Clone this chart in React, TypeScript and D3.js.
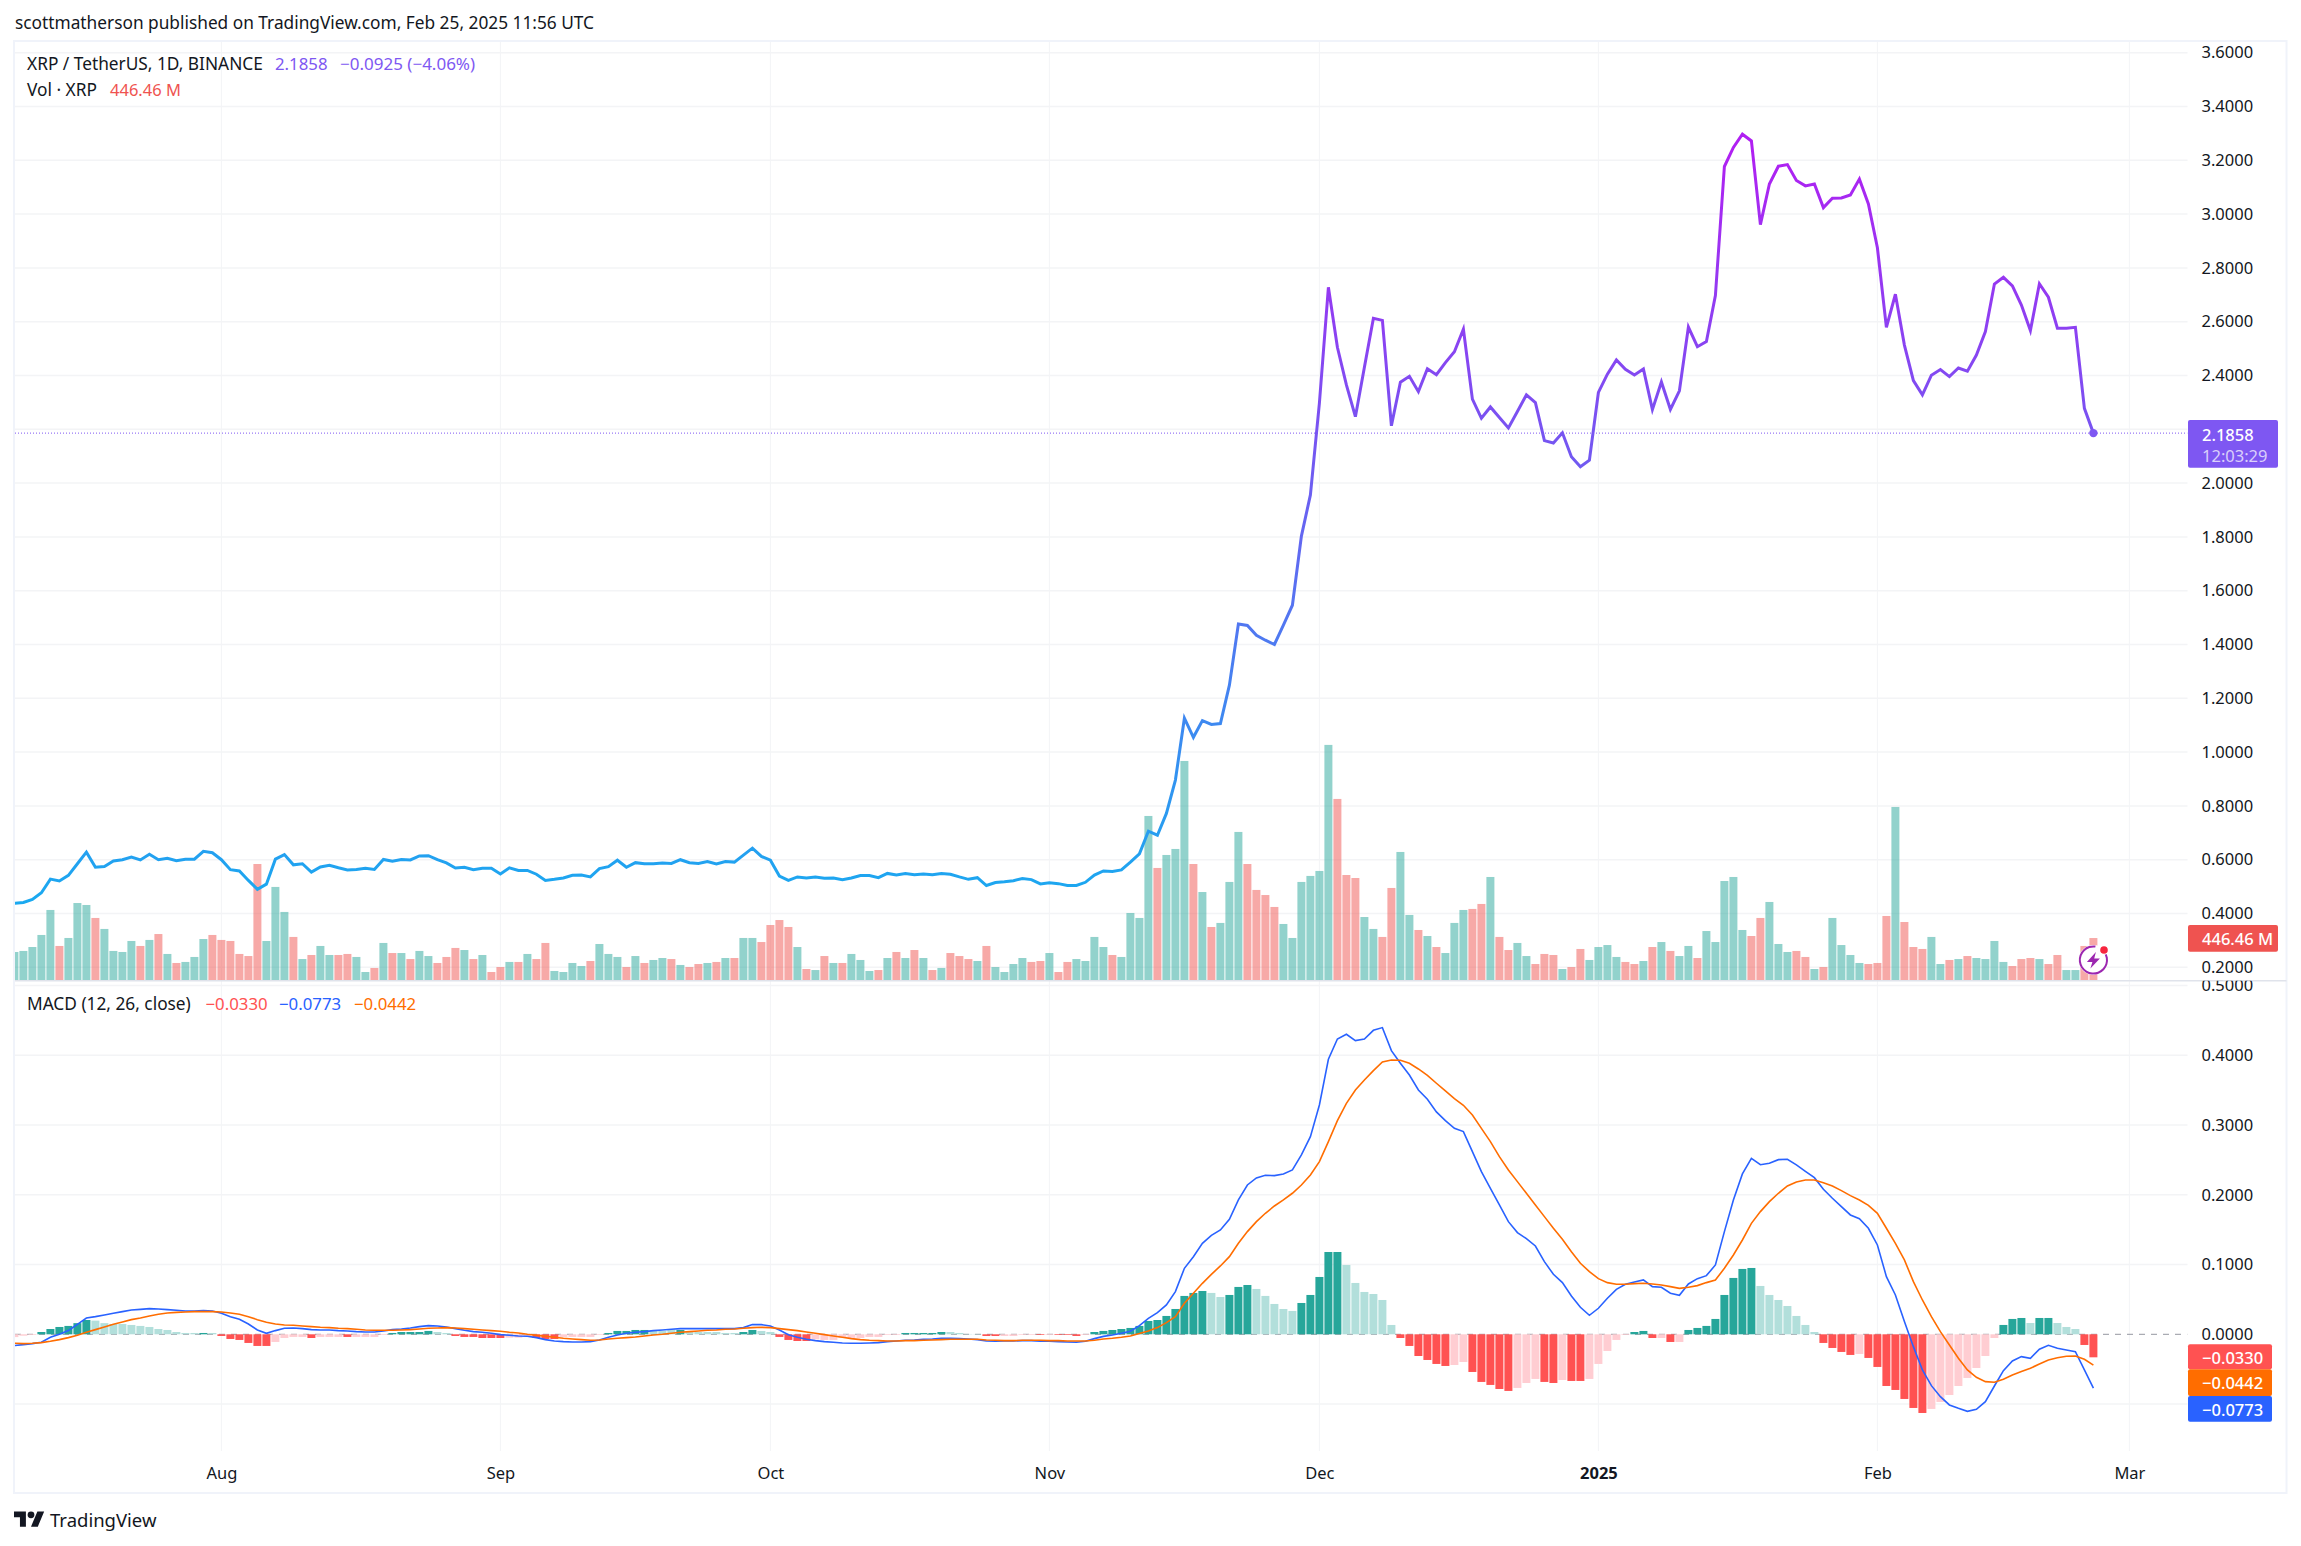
import React, { useEffect, useRef } from 'react';
import * as d3 from 'd3';

const FIRST_DAY = Date.UTC(2024, 6, 9);
const DAY = 86400000;

const closes = [
  0.438, 0.441, 0.452, 0.477, 0.528, 0.521, 0.542, 0.585, 0.628, 0.572, 0.575, 0.595, 0.6, 0.61, 0.599, 0.62,
  0.6, 0.605, 0.596, 0.602, 0.602, 0.631, 0.626, 0.6, 0.563, 0.558, 0.523, 0.49, 0.509, 0.602, 0.619, 0.581,
  0.585, 0.554, 0.573, 0.579, 0.57, 0.562, 0.564, 0.568, 0.564, 0.601, 0.594, 0.601, 0.599, 0.614, 0.615, 0.6,
  0.588, 0.569, 0.572, 0.563, 0.568, 0.568, 0.547, 0.57, 0.56, 0.56, 0.546, 0.523, 0.527, 0.532, 0.542, 0.543,
  0.536, 0.567, 0.574, 0.598, 0.572, 0.589, 0.585, 0.585, 0.588, 0.586, 0.6, 0.589, 0.586, 0.593, 0.584, 0.593,
  0.591, 0.617, 0.643, 0.612, 0.598, 0.539, 0.523, 0.536, 0.532, 0.536, 0.531, 0.532, 0.526, 0.532, 0.541, 0.541,
  0.533, 0.549, 0.543, 0.549, 0.544, 0.547, 0.544, 0.549, 0.546, 0.536, 0.527, 0.533, 0.504, 0.515, 0.518, 0.522,
  0.53, 0.526, 0.51, 0.514, 0.511, 0.504, 0.504, 0.516, 0.543, 0.558, 0.556, 0.562, 0.591, 0.622, 0.706, 0.691,
  0.772, 0.896, 1.126, 1.055, 1.117, 1.103, 1.106, 1.249, 1.476, 1.471, 1.434, 1.416, 1.4, 1.472, 1.546, 1.803,
  1.956, 2.297, 2.728, 2.505, 2.365, 2.247, 2.431, 2.613, 2.605, 2.213, 2.375, 2.397, 2.34, 2.425, 2.403, 2.448,
  2.488, 2.572, 2.312, 2.241, 2.283, 2.244, 2.205, 2.266, 2.328, 2.299, 2.158, 2.149, 2.187, 2.098, 2.061, 2.085,
  2.337, 2.405, 2.458, 2.423, 2.402, 2.424, 2.273, 2.376, 2.274, 2.343, 2.58, 2.507, 2.526, 2.697, 3.177, 3.248,
  3.297, 3.272, 2.961, 3.112, 3.178, 3.184, 3.125, 3.105, 3.112, 3.024, 3.059, 3.06, 3.071, 3.13, 3.038, 2.875,
  2.579, 2.702, 2.513, 2.381, 2.328, 2.401, 2.422, 2.396, 2.428, 2.416, 2.476, 2.563, 2.74, 2.765, 2.733, 2.662,
  2.567, 2.741, 2.691, 2.576, 2.576, 2.579, 2.278, 2.1858,
];

// volume in millions
const volumes = [
  298, 309, 351, 479, 745, 362, 447, 819, 798, 660, 543, 309, 298, 415, 362, 426,
  489, 277, 181, 192, 245, 436, 479, 426, 415, 277, 255, 1234, 415, 990, 724, 458,
  223, 266, 362, 266, 266, 277, 245, 85, 128, 394, 287, 287, 223, 309, 255, 181,
  245, 341, 319, 223, 266, 85, 138, 192, 192, 277, 223, 394, 96, 85, 181, 149,
  202, 383, 277, 245, 138, 255, 181, 213, 234, 223, 160, 138, 170, 181, 192, 234,
  234, 447, 447, 404, 585, 638, 564, 351, 117, 106, 255, 181, 181, 277, 213, 96,
  106, 234, 298, 234, 319, 234, 106, 128, 287, 255, 223, 202, 362, 138, 85, 170,
  234, 192, 202, 287, 85, 192, 223, 202, 458, 351, 266, 245, 713, 660, 1745, 1192,
  1330, 1394, 2330, 1234, 936, 564, 607, 1043, 1575, 1234, 958, 904, 777, 596, 447, 1043,
  1107, 1160, 2501, 1926, 1117, 1085, 670, 543, 458, 979, 1362, 692, 532, 468, 351, 287,
  607, 745, 756, 809, 1096, 458, 319, 394, 255, 170, 277, 266, 117, 138, 330, 213,
  351, 372, 245, 192, 170, 202, 351, 404, 309, 255, 362, 234, 521, 404, 1053, 1096,
  532, 468, 660, 830, 383, 298, 309, 245, 117, 138, 660, 372, 266, 181, 170, 181,
  681, 1841, 617, 351, 330, 458, 170, 213, 223, 255, 234, 223, 415, 192, 149, 223,
  234, 223, 170, 266, 106, 106, 362, 446.46,
];

const downVolumeDays = [
  5, 9, 14, 16, 18, 22, 23, 24, 25, 26, 27, 31, 33, 36, 37, 40, 42, 44, 47, 48, 49, 51, 53, 54, 56, 58, 59, 64,
  68, 70, 73, 75, 76, 78, 80, 83, 84, 85, 86, 88, 90, 92, 96, 98, 100, 102, 104, 105, 106, 108, 113, 114, 116,
  117, 122, 127, 131, 133, 137, 138, 139, 140, 147, 148, 149, 152, 153, 156, 158, 162, 163, 165, 166, 169, 170,
  171, 173, 174, 179, 180, 182, 184, 187, 193, 194, 198, 199, 201, 206, 207, 208, 210, 211, 212, 215, 217, 222,
  223, 224, 226, 227, 230, 231,
];

const macdLine = [
  -0.0162, -0.0148, -0.0134, -0.0115, -0.0043, 0, 0.0053, 0.0143, 0.0234, 0.0253, 0.0277, 0.0301, 0.0325, 0.0349, 0.0358, 0.0368,
  0.0363, 0.0354, 0.0344, 0.0335, 0.0335, 0.0339, 0.0335, 0.0301, 0.0253, 0.0215, 0.0148, 0.0062, 0.0014, 0.0053, 0.0086, 0.0091,
  0.0081, 0.0067, 0.0062, 0.0062, 0.0053, 0.0048, 0.0038, 0.0033, 0.0033, 0.0048, 0.0067, 0.0076, 0.0091, 0.011, 0.0124, 0.0119,
  0.0105, 0.0081, 0.0057, 0.0038, 0.0029, 0.0014, -0.0005, -0.0014, -0.0024, -0.0029, -0.0048, -0.0076, -0.0096, -0.0105, -0.011, -0.011,
  -0.0105, -0.0081, -0.0043, -0.001, 0.0014, 0.0029, 0.0038, 0.0053, 0.0062, 0.0072, 0.0081, 0.0081, 0.0081, 0.0081, 0.0081, 0.0081,
  0.0081, 0.0096, 0.0139, 0.0139, 0.0119, 0.0062, -0.0005, -0.0043, -0.0072, -0.0091, -0.0105, -0.0115, -0.0124, -0.0129, -0.0129, -0.0124,
  -0.0119, -0.0105, -0.0096, -0.0086, -0.0081, -0.0072, -0.0067, -0.0057, -0.0057, -0.0062, -0.0067, -0.0076, -0.0096, -0.01, -0.0096, -0.0096,
  -0.0091, -0.0091, -0.01, -0.01, -0.0105, -0.011, -0.0115, -0.01, -0.0062, -0.003, -0.001, 0.0014, 0.0043, 0.0124, 0.0229, 0.0311,
  0.0421, 0.0612, 0.0946, 0.1113, 0.1305, 0.1419, 0.1496, 0.1649, 0.1926, 0.2141, 0.2241, 0.228, 0.2275, 0.2299, 0.2356, 0.2571,
  0.2834, 0.3288, 0.3943, 0.4234, 0.4301, 0.421, 0.4234, 0.4358, 0.4397, 0.4067, 0.3885, 0.3718, 0.3503, 0.3369, 0.3188, 0.3063,
  0.2953, 0.2906, 0.2619, 0.2332, 0.2093, 0.1854, 0.1615, 0.1458, 0.1372, 0.1266, 0.1042, 0.086, 0.0741, 0.055, 0.0387, 0.0272,
  0.0373, 0.0516, 0.0645, 0.0717, 0.075, 0.0779, 0.0683, 0.0674, 0.0588, 0.0559, 0.0722, 0.0798, 0.0841, 0.0994, 0.1472, 0.1926,
  0.2299, 0.2523, 0.2432, 0.2452, 0.2504, 0.2509, 0.2428, 0.2337, 0.2246, 0.2079, 0.195, 0.183, 0.1711, 0.1658, 0.152, 0.1281,
  0.0827, 0.0564, 0.0182, -0.0177, -0.0511, -0.0736, -0.0894, -0.1013, -0.1061, -0.1104, -0.1075, -0.0965, -0.0741, -0.0521, -0.0382, -0.032,
  -0.0344, -0.0215, -0.0158, -0.0201, -0.0225, -0.0249, -0.0511, -0.0773,
];

const signalLine = [
  -0.0129, -0.0134, -0.0129, -0.0119, -0.01, -0.0076, -0.0048, -0.0014, 0.0029, 0.0067, 0.0105, 0.0143, 0.0177, 0.021, 0.0234, 0.0263,
  0.0287, 0.0306, 0.0315, 0.032, 0.0325, 0.0325, 0.0325, 0.032, 0.0306, 0.0287, 0.0253, 0.021, 0.0172, 0.0148, 0.0134, 0.0129,
  0.0119, 0.011, 0.01, 0.0096, 0.0086, 0.0081, 0.0072, 0.0062, 0.0057, 0.0057, 0.0057, 0.0062, 0.0067, 0.0076, 0.0086, 0.0091,
  0.0096, 0.0091, 0.0081, 0.0072, 0.0062, 0.0053, 0.0043, 0.0029, 0.0019, 0, -0.0014, -0.0029, -0.0043, -0.0057, -0.0067, -0.0076,
  -0.0086, -0.0081, -0.0067, -0.0057, -0.0048, -0.0038, -0.0024, -0.001, 0, 0.0014, 0.0029, 0.0038, 0.0048, 0.0057, 0.0062, 0.0072,
  0.0076, 0.0086, 0.0096, 0.01, 0.0096, 0.0081, 0.0067, 0.0053, 0.0033, 0.0014, -0.0005, -0.0024, -0.0043, -0.0062, -0.0076, -0.0086,
  -0.0091, -0.0096, -0.0096, -0.0091, -0.0091, -0.0086, -0.0081, -0.0076, -0.0072, -0.0072, -0.0072, -0.0072, -0.0081, -0.0086, -0.0091, -0.0091,
  -0.0086, -0.0086, -0.0086, -0.0091, -0.0091, -0.0096, -0.0096, -0.0096, -0.0086, -0.0067, -0.0057, -0.0043, -0.0024, 0.001, 0.0048, 0.0096,
  0.0167, 0.0253, 0.0444, 0.0588, 0.0731, 0.086, 0.098, 0.1113, 0.1305, 0.1472, 0.1615, 0.1735, 0.184, 0.1926, 0.2022, 0.2141,
  0.2284, 0.2476, 0.2762, 0.3063, 0.3312, 0.3503, 0.3646, 0.378, 0.3904, 0.3933, 0.3928, 0.3885, 0.3804, 0.3713, 0.3599, 0.3489,
  0.3379, 0.3283, 0.3145, 0.2953, 0.2762, 0.2547, 0.2356, 0.2189, 0.2022, 0.1854, 0.1687, 0.152, 0.1362, 0.1185, 0.1018, 0.0898,
  0.0798, 0.0741, 0.0717, 0.0717, 0.0726, 0.0731, 0.0722, 0.0707, 0.0683, 0.0659, 0.0674, 0.0698, 0.0741, 0.0779, 0.0946, 0.1137,
  0.1352, 0.1591, 0.1759, 0.1902, 0.2022, 0.2127, 0.2184, 0.2213, 0.2213, 0.2174, 0.2127, 0.206, 0.1988, 0.1926, 0.1849, 0.1735,
  0.152, 0.1305, 0.1066, 0.0755, 0.0492, 0.0253, 0.0038, -0.0153, -0.0344, -0.0511, -0.0616, -0.0679, -0.0688, -0.0645, -0.0583, -0.0535,
  -0.0487, -0.0425, -0.0368, -0.0335, -0.0315, -0.0311, -0.0358, -0.0442,
];

const histogram = [
  -0.004, -0.002, -0.001, 0.0033, 0.0076, 0.0105, 0.012, 0.016, 0.0205, 0.0196, 0.016, 0.0148, 0.0148, 0.0134, 0.012, 0.0105,
  0.0076, 0.0062, 0.0033, 0.0019, 0.0019, 0.0019, 0.0019, -0.0024, -0.0067, -0.0081, -0.0124, -0.0167, -0.0167, -0.011, -0.0053, -0.0038,
  -0.0038, -0.0053, -0.0038, -0.0038, -0.0038, -0.0038, -0.0038, -0.0038, -0.0038, -0.001, 0.0019, 0.0033, 0.0033, 0.0033, 0.0048, 0.0033,
  0.0019, -0.0024, -0.0038, -0.0038, -0.0053, -0.0053, -0.0053, -0.0048, -0.0048, -0.004, -0.0053, -0.0067, -0.0067, -0.0038, -0.0038, -0.0038,
  -0.0038, -0.001, 0.0019, 0.0048, 0.0048, 0.0062, 0.0062, 0.0048, 0.0048, 0.0062, 0.0062, 0.0033, 0.0033, 0.0033, 0.0033, 0.0019,
  0.0019, 0.0033, 0.0062, 0.0048, 0.0033, -0.0038, -0.0081, -0.0096, -0.0096, -0.0072, -0.0081, -0.0081, -0.0053, -0.0053, -0.0053, -0.0038,
  -0.0038, -0.001, -0.001, 0.0019, 0.0019, 0.0019, 0.0019, 0.0033, 0.0033, 0.0019, 0.0005, 0.0005, -0.0024, -0.0024, -0.0024, -0.0024,
  -0.001, -0.001, -0.001, -0.001, -0.001, -0.001, -0.0024, -0.001, 0.0033, 0.0048, 0.0062, 0.0076, 0.0091, 0.012, 0.0191, 0.0205,
  0.0263, 0.0363, 0.055, 0.0593, 0.0621, 0.0593, 0.0535, 0.0564, 0.0679, 0.0707, 0.065, 0.055, 0.0435, 0.0363, 0.0335, 0.0449,
  0.0564, 0.0822, 0.118, 0.118, 0.0994, 0.0736, 0.0607, 0.0578, 0.0492, 0.0134, -0.0053, -0.0167, -0.0311, -0.0368, -0.0425, -0.0454,
  -0.044, -0.0397, -0.054, -0.0683, -0.0726, -0.0784, -0.0812, -0.0769, -0.0698, -0.064, -0.0683, -0.0698, -0.0655, -0.0669, -0.0669, -0.064,
  -0.0425, -0.0239, -0.0081, -0.001, 0.0033, 0.0048, -0.0053, -0.0053, -0.011, -0.011, 0.0062, 0.0091, 0.012, 0.022, 0.0564, 0.0808,
  0.0937, 0.0951, 0.0693, 0.0564, 0.0492, 0.0406, 0.0263, 0.0134, 0.0033, -0.0124, -0.0196, -0.0253, -0.0296, -0.0282, -0.0339, -0.0468,
  -0.0741, -0.0798, -0.0927, -0.1056, -0.1128, -0.107, -0.097, -0.087, -0.0741, -0.0626, -0.0483, -0.0311, -0.0053, 0.0134, 0.022, 0.0234,
  0.0162, 0.0234, 0.0234, 0.0162, 0.0105, 0.0076, -0.0153, -0.033,
];

const fadedHistogramDays = [
  0, 1, 2, 9, 10, 11, 12, 13, 14, 15, 16, 17, 18, 19, 20, 22, 29, 30, 31, 32, 34, 35, 36, 38, 39, 40, 41, 47, 48,
  55, 56, 57, 61, 62, 63, 64, 65, 71, 72, 73, 75, 76, 77, 78, 79, 80, 83, 84, 89, 90, 91, 92, 93, 94, 95, 96, 97,
  98, 104, 105, 106, 107, 110, 111, 112, 113, 115, 119, 133, 134, 138, 139, 140, 141, 142, 148, 149, 150, 151, 152,
  153, 160, 161, 167, 168, 169, 172, 175, 176, 177, 178, 179, 183, 185, 194, 195, 196, 197, 198, 199, 200, 205, 213,
  214, 215, 216, 217, 218, 219, 220, 224, 227, 228, 229,
];

const priceTicks = [0.2, 0.4, 0.6, 0.8, 1.0, 1.2, 1.4, 1.6, 1.8, 2.0, 2.2, 2.4, 2.6, 2.8, 3.0, 3.2, 3.4, 3.6];
// 2.2000 sits behind the last price tag, so it gets a grid line but no label
const priceLabels = priceTicks.filter(d => d !== 2.2);
const macdTicks = [0.5, 0.4, 0.3, 0.2, 0.1, 0, -0.1];
const monthTicks = [
  Date.UTC(2024, 7, 1), Date.UTC(2024, 8, 1), Date.UTC(2024, 9, 1), Date.UTC(2024, 10, 1),
  Date.UTC(2024, 11, 1), Date.UTC(2025, 0, 1), Date.UTC(2025, 1, 1), Date.UTC(2025, 2, 1),
];
const monthLabels = ['Aug', 'Sep', 'Oct', 'Nov', 'Dec', '2025', 'Feb', 'Mar'];

const FONT = "'Noto Sans', Lato, sans-serif";
const INK = '#131722';
const GRID = '#f3f4f6';
const EDGE = '#f0f3fa';
const PURPLE = '#7e57f2';
const UP = '#26a69a';
const DOWN = '#ff5252';
const VOL_DOWN = '#ef5350';
const MACD_BLUE = '#2962ff';
const SIGNAL_ORANGE = '#ff6d00';

const WIDTH = 2301;
const HEIGHT = 1546;
const LEFT = 15;
const PLOT_RIGHT = 2187.5;
const RIGHT = 2286.5;
const TOP = 41;
const PANE_LINE = 980.7;
const PLOT_BOTTOM = 1451;
const BOTTOM = 1493;
const BAR_WIDTH = 8;

const App: React.FC = () => {
  const svgRef = useRef<SVGSVGElement | null>(null);

  useEffect(() => {
    if (!svgRef.current) return;
    const svg = d3.select(svgRef.current);
    svg.selectAll('*').remove();
    svg.style('font-family', FONT);

    const days = closes.map((_, i) => new Date(FIRST_DAY + i * DAY));
    const x = d3.scaleUtc()
      .domain([days[0], days[days.length - 1]])
      .range([14.4, 14.4 + 9 * (days.length - 1)]);
    const yPrice = d3.scaleLinear().domain([0.2, 3.6]).range([967.3, 52.7]);
    const yVolume = d3.scaleLinear().domain([0, 2500]).range([980, 745]);
    const yMacd = d3.scaleLinear().domain([0, 0.5]).range([1334.3, 985.55]);

    const defs = svg.append('defs');
    const gradient = defs.append('linearGradient')
      .attr('id', 'priceStroke')
      .attr('gradientUnits', 'userSpaceOnUse')
      .attr('x1', 0).attr('x2', 0)
      .attr('y1', 150).attr('y2', 900);
    gradient.append('stop').attr('offset', 0).attr('stop-color', '#b020f2');
    gradient.append('stop').attr('offset', 1).attr('stop-color', '#1aa9f0');

    defs.append('clipPath').attr('id', 'plotClip')
      .append('rect').attr('x', LEFT).attr('y', TOP).attr('width', PLOT_RIGHT - LEFT).attr('height', PLOT_BOTTOM - TOP);
    defs.append('clipPath').attr('id', 'macdScaleClip')
      .append('rect').attr('x', PLOT_RIGHT).attr('y', PANE_LINE).attr('width', 100).attr('height', PLOT_BOTTOM - PANE_LINE);

    svg.append('rect').attr('width', WIDTH).attr('height', HEIGHT).attr('fill', '#ffffff');

    // Grid
    const grid = svg.append('g').attr('stroke', GRID).attr('stroke-width', 1.5);
    grid.selectAll('line.month')
      .data(monthTicks)
      .enter().append('line')
      .attr('class', 'month')
      .attr('x1', d => x(d)).attr('x2', d => x(d))
      .attr('y1', TOP).attr('y2', PLOT_BOTTOM)
      .attr('stroke-width', 1);
    grid.selectAll('line.price')
      .data(priceTicks)
      .enter().append('line')
      .attr('class', 'price')
      .attr('x1', LEFT).attr('x2', PLOT_RIGHT)
      .attr('y1', d => yPrice(d)).attr('y2', d => yPrice(d));
    grid.selectAll('line.macd')
      .data(macdTicks)
      .enter().append('line')
      .attr('class', 'macd')
      .attr('x1', LEFT).attr('x2', PLOT_RIGHT)
      .attr('y1', d => yMacd(d)).attr('y2', d => yMacd(d))
      .attr('display', d => (d === 0 ? 'none' : null));

    const plot = svg.append('g').attr('clip-path', 'url(#plotClip)');

    // Volume bars
    plot.append('g').selectAll('rect')
      .data(volumes)
      .enter().append('rect')
      .attr('x', (_, i) => x(days[i]) - BAR_WIDTH / 2)
      .attr('width', BAR_WIDTH)
      .attr('y', d => yVolume(d))
      .attr('height', d => yVolume(0) - yVolume(d))
      .attr('fill', (_, i) => (downVolumeDays.includes(i) ? VOL_DOWN : UP))
      .attr('fill-opacity', 0.5);

    // Last price line
    plot.append('line')
      .attr('x1', LEFT).attr('x2', PLOT_RIGHT)
      .attr('y1', yPrice(2.1858)).attr('y2', yPrice(2.1858))
      .attr('stroke', PURPLE)
      .attr('stroke-width', 1)
      .attr('stroke-dasharray', '1 2');

    // Price line
    const priceLine = d3.line<number>()
      .x((_, i) => x(days[i]))
      .y(d => yPrice(d));
    plot.append('path')
      .datum(closes)
      .attr('d', priceLine)
      .attr('fill', 'none')
      .attr('stroke', 'url(#priceStroke)')
      .attr('stroke-width', 3)
      .attr('stroke-linejoin', 'miter');
    plot.append('circle')
      .attr('cx', x(days[days.length - 1]))
      .attr('cy', yPrice(closes[closes.length - 1]))
      .attr('r', 4.2)
      .attr('fill', PURPLE);

    // MACD pane
    plot.append('line')
      .attr('x1', LEFT).attr('x2', PLOT_RIGHT)
      .attr('y1', yMacd(0)).attr('y2', yMacd(0))
      .attr('stroke', '#9598a1')
      .attr('stroke-width', 1)
      .attr('stroke-dasharray', '6 6');

    plot.append('g').selectAll('rect')
      .data(histogram)
      .enter().append('rect')
      .attr('x', (_, i) => x(days[i]) - BAR_WIDTH / 2)
      .attr('width', BAR_WIDTH)
      .attr('y', d => Math.min(yMacd(d), yMacd(0)))
      .attr('height', d => Math.abs(yMacd(d) - yMacd(0)))
      .attr('fill', (d, i) => {
        const faded = fadedHistogramDays.includes(i);
        if (d >= 0) return faded ? '#b2dfdb' : UP;
        return faded ? '#ffcdd2' : DOWN;
      });

    const macdPath = d3.line<number>()
      .x((_, i) => x(days[i]))
      .y(d => yMacd(d));
    plot.append('path')
      .datum(macdLine)
      .attr('d', macdPath)
      .attr('fill', 'none')
      .attr('stroke', MACD_BLUE)
      .attr('stroke-width', 1.6);
    plot.append('path')
      .datum(signalLine)
      .attr('d', macdPath)
      .attr('fill', 'none')
      .attr('stroke', SIGNAL_ORANGE)
      .attr('stroke-width', 1.6);

    // Frame and pane separator
    svg.append('rect')
      .attr('x', LEFT - 1).attr('y', TOP)
      .attr('width', RIGHT - LEFT + 1).attr('height', BOTTOM - TOP)
      .attr('fill', 'none')
      .attr('stroke', EDGE)
      .attr('stroke-width', 2);
    svg.append('line')
      .attr('x1', LEFT).attr('x2', RIGHT)
      .attr('y1', PANE_LINE).attr('y2', PANE_LINE)
      .attr('stroke', '#e0e3eb')
      .attr('stroke-width', 1.5);

    // Axes
    const styleAxis = (g: d3.Selection<SVGGElement, unknown, null, undefined>, size: number) => {
      g.select('.domain').remove();
      g.selectAll('.tick line').remove();
      g.selectAll('text').attr('fill', INK).style('font-size', `${size}px`).style('font-family', FONT);
    };
    svg.append('g')
      .attr('transform', `translate(${PLOT_RIGHT + 5},0)`)
      .call(d3.axisRight(yPrice).tickValues(priceLabels).tickFormat(d => d3.format('.4f')(d as number)).tickSize(0).tickPadding(9))
      .call(g => styleAxis(g as any, 16.5));
    svg.append('g')
      .attr('clip-path', 'url(#macdScaleClip)')
      .append('g')
      .attr('transform', `translate(${PLOT_RIGHT + 5},0)`)
      .call(d3.axisRight(yMacd).tickValues(macdTicks.filter(d => d >= 0)).tickFormat(d => d3.format('.4f')(d as number)).tickSize(0).tickPadding(9))
      .call(g => styleAxis(g as any, 16.5));
    svg.append('g')
      .attr('transform', `translate(0,${PLOT_BOTTOM + 10})`)
      .call(d3.axisBottom(x).tickValues(monthTicks.map(d => new Date(d))).tickFormat((_, i) => monthLabels[i]).tickSize(0).tickPadding(6))
      .call(g => styleAxis(g as any, 16.5))
      .call(g => g.selectAll('text').filter(d => +(d as Date) === Date.UTC(2025, 0, 1)).attr('font-weight', 700));

    // Tags on the price scale
    const addTag = (y0: number, y1: number, w: number, fill: string) =>
      svg.append('rect')
        .attr('x', PLOT_RIGHT + 0.5).attr('y', y0)
        .attr('width', w).attr('height', y1 - y0)
        .attr('rx', 2)
        .attr('fill', fill);
    const addTagText = (y: number, label: string, opts: { weight?: number; opacity?: number } = {}) =>
      svg.append('text')
        .attr('x', PLOT_RIGHT + 14.5).attr('y', y)
        .attr('dominant-baseline', 'central')
        .attr('fill', '#ffffff')
        .attr('fill-opacity', opts.opacity ?? 1)
        .attr('font-size', 16.5)
        .attr('font-weight', opts.weight ?? 400)
        .text(label);

    addTag(420, 467.7, 90, PURPLE);
    addTagText(434, '2.1858', { weight: 500 });
    addTagText(455, '12:03:29', { opacity: 0.72 });
    addTag(925, 951.7, 90, VOL_DOWN);
    addTagText(938.5, '446.46 M', { weight: 500 });
    addTag(1344.3, 1369.3, 84, DOWN);
    addTagText(1357, '−0.0330', { weight: 500 });
    addTag(1369.3, 1396, 84, SIGNAL_ORANGE);
    addTagText(1382.5, '−0.0442', { weight: 500 });
    addTag(1396, 1421.7, 84, MACD_BLUE);
    addTagText(1409, '−0.0773', { weight: 500 });

    // Legends
    const addText = (tx: number, ty: number, label: string, fill = INK, size = 17.3) =>
      svg.append('text')
        .attr('x', tx).attr('y', ty)
        .attr('dominant-baseline', 'central')
        .attr('fill', fill)
        .attr('font-size', size)
        .text(label);

    addText(15, 22.5, 'scottmatherson published on TradingView.com, Feb 25, 2025 11:56 UTC');
    addText(27, 63, 'XRP / TetherUS, 1D, BINANCE');
    addText(275, 63, '2.1858', PURPLE, 16.8);
    addText(340, 63, '−0.0925 (−4.06%)', PURPLE, 17);
    addText(27, 89, 'Vol · XRP');
    addText(110, 89, '446.46 M', VOL_DOWN, 16.5);
    addText(27, 1003, 'MACD (12, 26, close)');
    addText(205.5, 1003, '−0.0330', DOWN, 16.8);
    addText(279, 1003, '−0.0773', MACD_BLUE, 16.8);
    addText(354, 1003, '−0.0442', SIGNAL_ORANGE, 16.8);

    // Exchange badge sitting over the last volume bars
    const badge = svg.append('g').attr('transform', `translate(${x(days[days.length - 1])},960)`);
    badge.append('circle').attr('r', 15).attr('fill', '#ffffff');
    const ring = d3.arc()({ innerRadius: 12.6, outerRadius: 14.6, startAngle: 0.95, endAngle: 2 * Math.PI + 0.15 });
    badge.append('path').attr('d', ring as string).attr('fill', '#9c27b0');
    badge.append('path')
      .attr('d', 'M2.5 -8 L-6.5 2 L-1 2 L-3 8.5 L6.5 -1.5 L0.8 -1.5 Z')
      .attr('fill', '#9c27b0');
    badge.append('circle').attr('cx', 10.6).attr('cy', -10).attr('r', 4.8).attr('fill', '#ffffff');
    badge.append('circle').attr('cx', 10.6).attr('cy', -10).attr('r', 3.8).attr('fill', '#f7253f');

    // TradingView mark
    const logo = svg.append('g').attr('transform', 'translate(14,1508) scale(0.85)');
    logo.append('path').attr('d', 'M14 22H7V11H0V4h14v18zM28 22h-8l7.5-18h8L28 22z').attr('fill', INK);
    logo.append('circle').attr('cx', 20).attr('cy', 8).attr('r', 4).attr('fill', INK);
    addText(50, 1519, 'TradingView', INK, 18.5);
  }, []);

  return (
    <svg
      ref={svgRef}
      width={WIDTH}
      height={HEIGHT}
      style={{ position: 'absolute', left: 0, top: 0, display: 'block' }}
    />
  );
};

export default App;
